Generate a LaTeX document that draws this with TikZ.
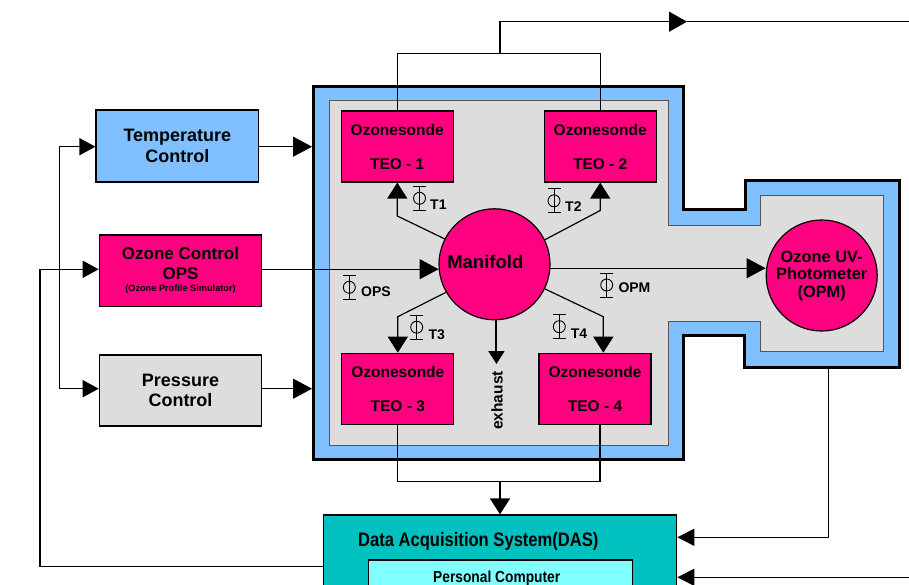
\documentclass[tikz,border=0pt]{standalone}
\usepackage{fontspec}
\setmainfont{Liberation Sans}
\usepackage{graphicx}
\usetikzlibrary{arrows.meta,calc}
\definecolor{tcblue}{HTML}{80C0FF}
\definecolor{ozpink}{HTML}{FF0080}
\definecolor{chgrey}{HTML}{DDDDDD}
\definecolor{dasteal}{HTML}{00C0C0}
\definecolor{pccyan}{HTML}{80FFFF}
\definecolor{edgegrey}{HTML}{555555}
\begin{document}
\begin{tikzpicture}[x=1pt,y=-1pt,
  box/.style={draw=black, line width=1.2pt, rectangle, inner sep=0pt, align=center},
  ring/.style={draw=black, line width=1.2pt, circle, inner sep=0pt, align=center},
  wire/.style={line width=1.2pt, black},
  arrA/.style={wire, -{Triangle[length=19pt,width=20pt]}},
  arrT/.style={wire, -{Triangle[length=16pt,width=20pt]}},
  arrS/.style={wire, -{Triangle[length=16pt,width=17pt]}},
  arrE/.style={line width=2pt, -{Triangle[length=13pt,width=16pt]}},
  lab/.style={font=\bfseries\fontsize{14}{15}\selectfont, inner sep=0pt, anchor=base west},
  phisym/.pic={\draw[line width=0.9pt] (0,-12) -- (0,12) (-6.5,-12) -- (6.5,-12) (-6.5,12) -- (6.5,12);
               \draw[line width=0.9pt] (0,0) circle[radius=6pt];},
]
\path[use as bounding box, clip] (0,0) rectangle (909,585);

% chamber
\draw[line width=3pt, fill=tcblue, line join=miter]
  (313.3,86.7) -- (683,86.7) -- (683,210) -- (745,210) -- (745,180.7) -- (899,180.7)
  -- (899,367) -- (744.5,367) -- (744.5,335.8) -- (683,335.8) -- (683,459.7) -- (313.3,459.7) -- cycle;
\draw[line width=1pt, draw=edgegrey, fill=chgrey]
  (329,101) -- (668.3,101) -- (668.3,226) -- (760,226) -- (760,195.7) -- (883.3,195.7)
  -- (883.3,351) -- (760,351) -- (760,321) -- (668.3,321) -- (668.3,445) -- (329,445) -- cycle;

% left boxes
\node[box, fill=tcblue, minimum width=162.7pt, minimum height=72pt,
      font=\bfseries\fontsize{18}{20.7}\selectfont] (tc) at (177.4,146) {Temperature\\Control};
\node[box, fill=ozpink, minimum width=162.4pt, minimum height=71.3pt,
      font=\bfseries\fontsize{17}{20}\selectfont] (ocs) at (180.5,270.7)
      {\raisebox{-2.5pt}{Ozone Control}\\\raisebox{-2.5pt}{OPS}\\[-8pt]\fontsize{9.2}{20}\selectfont \raisebox{-2.5pt}{(Ozone Profile Simulator)}};
\node[box, fill=chgrey, minimum width=162.4pt, minimum height=71pt,
      font=\bfseries\fontsize{18}{20.7}\selectfont] (pc) at (180.5,390.5) {Pressure\\Control};

% ozonesondes
\tikzset{teo/.style={box, fill=ozpink, minimum width=112pt, minimum height=71pt,
      font=\bfseries\fontsize{15.5}{34}\selectfont}}
\node[teo] (teo1) at (397.2,146.5) {Ozonesonde\\TEO - 1};
\node[teo] (teo2) at (600.2,146.5) {Ozonesonde\\TEO - 2};
\node[teo] (teo3) at (397.8,388.8) {Ozonesonde\\TEO - 3};
\node[teo] (teo4) at (595,388.8) {Ozonesonde\\TEO - 4};

% manifold and photometer
\node[ring, fill=ozpink, minimum size=111pt] (man) at (494.5,264.3) {};
\node[font=\bfseries\fontsize{18.5}{20}\selectfont, inner sep=0pt] (manlab) at (485.3,261.7) {Manifold};
\node[ring, fill=ozpink, minimum size=111pt,
      font=\bfseries\fontsize{16.4}{17.5}\selectfont] (opm) at (821.7,275.5) {Ozone UV-\\Photometer\\(OPM)};

% DAS
\node[box, fill=dasteal, minimum width=353.4pt, minimum height=110pt] (das) at (500,570) {};
\node[font=\bfseries\fontsize{19.5}{22}\selectfont, inner sep=0pt, anchor=base] (daslab) at (478.3,546.7)
      {\scalebox{0.85}[1]{Data Acquisition System(DAS)}};
\node[box, fill=pccyan, minimum width=264pt, minimum height=80pt] (pcbox) at (500.3,600) {};
\node[font=\bfseries\fontsize{16}{18}\selectfont, inner sep=0pt, anchor=base] (pclab) at (496.7,582)
      {\scalebox{0.86}[1]{Personal Computer}};

% coordinates
\coordinate (busT) at (59.3,146.7);
\coordinate (busB) at (59.3,388.7);
\coordinate (loopL) at (40,269.3);
\coordinate (loopB) at (40,566.7);
\coordinate (chTC) at (312,146.7);
\coordinate (chPC) at (312,388.7);
\coordinate (b1) at (397.3,216);
\coordinate (b2) at (600.2,210.5);
\coordinate (b3) at (397.8,316.7);
\coordinate (b4) at (603.3,316.7);
\coordinate (exh) at (497,364);
\coordinate (topbar) at (500,53.3);
\coordinate (topArr) at (687,21.7);
\coordinate (outR) at (909,21.7);
\coordinate (botbar) at (500,481.7);
\coordinate (teo4out) at (600,424.3);
\coordinate (opmOut) at (828.3,367.3);
\coordinate (rb) at (828.3,537.3);
\coordinate (inR) at (909,577.3);

% left feeds
\draw[wire] (busT) -- (busB);
\draw[arrS] (busT) -- (busT -| tc.west);
\draw[arrS] (busB) -- (busB -| pc.west);
\draw[arrS] (das.west |- loopB) -| (loopL) -- (loopL -| ocs.west);
\draw[arrA] (tc.east |- chTC) -- (chTC);
\draw[arrA] (pc.east |- chPC) -- (chPC);
\draw[arrA] (ocs.east |- man.185) -- (man.185);

% manifold outputs
\draw[arrT] (man.153) -- (b1) -- (b1 |- teo1.south);
\draw[arrT] (man.26) -- (b2) -- (b2 |- teo2.south);
\draw[arrT] (man.210) -- (b3) -- (b3 |- teo3.north);
\draw[arrT] (man.334) -- (b4) -- (b4 |- teo4.north);
\draw[arrA] (man.-4) -- (man.-4 -| opm.west);
\draw[arrE] (man.272.6) -- (man.272.6 |- exh);
\node[font=\bfseries\fontsize{15.5}{16}\selectfont, inner sep=0pt, rotate=90] (exhlab) at (497,400.5) {exhaust};

% flow restrictors
\pic at (419.5,198.3) {phisym};
\node[lab] (lt1) at (430,210) {T1};
\pic at (554,200.8) {phisym};
\node[lab] (lt2) at (565,211.7) {T2};
\pic at (349.3,287.3) {phisym};
\node[lab] (lops) at (361,296.7) {OPS};
\pic at (606.7,285) {phisym};
\node[lab] (lopm) at (618.3,292.3) {OPM};
\pic at (416.7,327.2) {phisym};
\node[lab] (lt3) at (428.3,339.3) {T3};
\pic at (559.3,326.7) {phisym};
\node[lab] (lt4) at (570.7,338.3) {T4};

% top wiring
\draw[wire] (teo1.north) |- (topbar) -| (teo2.north);
\draw[wire, -{Triangle[length=18pt,width=20pt]}] (topbar) |- (topArr);
\draw[wire] (topArr) -- (outR);

% bottom wiring
\draw[wire] (teo3.south) |- (botbar) -| (teo4out);
\draw[arrT] (botbar) -- (botbar |- das.north);

% right wiring
\draw[wire, -{Triangle[length=17pt,width=17pt]}] (opmOut) |- (das.east |- rb);
\draw[wire, -{Triangle[length=17pt,width=17pt]}] (inR) -- (das.east |- inR);
\end{tikzpicture}
\end{document}
